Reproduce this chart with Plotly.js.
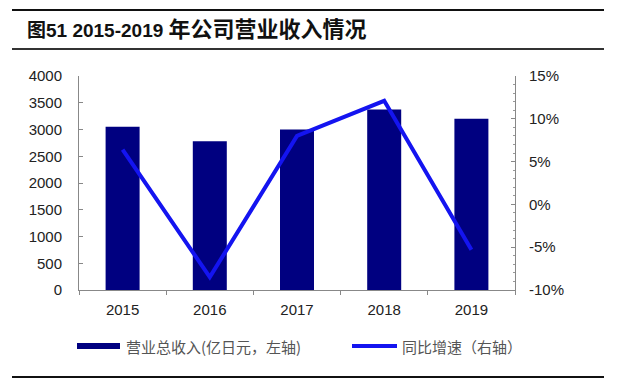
<!DOCTYPE html>
<html>
<head>
<meta charset="utf-8">
<script src="https://cdn.plot.ly/plotly-3.0.1.min.js"></script>
<style>html,body{margin:0;padding:0;background:#fff;}#chart{width:623px;height:387px;}</style>
</head>
<body>
<div id="chart"></div>
<script>
const years = ['2015', '2016', '2017', '2018', '2019'];
const revenue = [3050, 2780, 3000, 3375, 3200];
const growth = [6.4, -8.5, 8.0, 12.1, -5.3];
const leftTicks = [0, 500, 1000, 1500, 2000, 2500, 3000, 3500, 4000];
const rightTicks = [-10, -5, 0, 5, 10, 15];
const titleNum = '图51 2015-2019 ';
const titleCn = '年公司营业收入情况';
const legendBar = '营业总收入(亿日元，左轴)';
const legendLine = '同比增速（右轴）';

const W = 623, H = 387, L = 79, R = 515, T = 76, B = 290;
const px = x => (x - L) / (R - L);
const py = y => (B - y) / (B - T);

const tickFont = {family: 'Liberation Sans, Arial, sans-serif', size: 15, color: '#222'};
const legFont = {family: 'Noto Sans CJK SC, sans-serif', size: 15, color: '#555'};

const data = [
  {type: 'bar', x: years, y: revenue, marker: {color: '#000080'}, width: 0.39, yaxis: 'y', hoverinfo: 'none'},
  {type: 'scatter', mode: 'lines', x: years, y: growth, yaxis: 'y2', line: {color: '#1414f0', width: 4}, hoverinfo: 'none'}
];

const layout = {
  width: W, height: H,
  margin: {l: L, r: W - R, t: T, b: H - B, pad: 0},
  paper_bgcolor: '#fff', plot_bgcolor: '#fff',
  showlegend: false,
  title: {
    text: '<b>' + titleNum + '<span style="font-size:22px">' + titleCn + '</span></b>',
    xref: 'container', yref: 'container',
    x: 27 / W, xanchor: 'left', y: 1 - 30 / H, yanchor: 'middle',
    font: {family: 'Liberation Sans, Noto Sans CJK SC, sans-serif', size: 19, color: '#111'}
  },
  xaxis: {
    type: 'category', range: [-0.5, 4.5],
    showline: true, linecolor: '#888', linewidth: 1,
    ticks: 'outside', tickson: 'boundaries', ticklen: 4, tickcolor: '#888',
    tickfont: tickFont, showgrid: false, zeroline: false, ticklabelstandoff: 6
  },
  yaxis: {
    range: [0, 4000], tickvals: leftTicks,
    showline: true, linecolor: '#888', linewidth: 1,
    ticks: 'inside', ticklen: 4, tickcolor: '#888',
    tickfont: tickFont, showgrid: false, zeroline: false, ticklabelstandoff: 13
  },
  yaxis2: {
    overlaying: 'y', side: 'right', range: [-10, 15], tickvals: rightTicks,
    ticktext: rightTicks.map(v => v + '%'),
    showline: true, linecolor: '#888', linewidth: 1,
    ticks: 'inside', ticklen: 4, tickcolor: '#888',
    minor: {dtick: 1, ticks: 'inside', ticklen: 2, tickcolor: '#999'},
    tickfont: tickFont, showgrid: false, zeroline: false, ticklabelstandoff: 10
  },
  shapes: [
    {type: 'line', xref: 'paper', yref: 'paper', x0: px(12), x1: px(604), y0: py(10), y1: py(10), line: {color: '#111', width: 2}},
    {type: 'line', xref: 'paper', yref: 'paper', x0: px(12), x1: px(604), y0: py(49), y1: py(49), line: {color: '#333', width: 2}},
    {type: 'line', xref: 'paper', yref: 'paper', x0: px(12), x1: px(604), y0: py(377), y1: py(377), line: {color: '#111', width: 2}},
    {type: 'rect', xref: 'paper', yref: 'paper', x0: px(77), x1: px(120), y0: py(349), y1: py(343), fillcolor: '#000080', line: {width: 0}},
    {type: 'line', xref: 'paper', yref: 'paper', x0: px(352), x1: px(397), y0: py(346), y1: py(346), line: {color: '#1414f0', width: 4}}
  ],
  annotations: [
    {xref: 'paper', yref: 'paper', x: px(124), y: py(346), xanchor: 'left', yanchor: 'middle', text: legendBar, showarrow: false, font: legFont},
    {xref: 'paper', yref: 'paper', x: px(400), y: py(346), xanchor: 'left', yanchor: 'middle', text: legendLine, showarrow: false, font: legFont}
  ]
};

Plotly.newPlot('chart', data, layout, {displayModeBar: false, staticPlot: true});
</script>
</body>
</html>
